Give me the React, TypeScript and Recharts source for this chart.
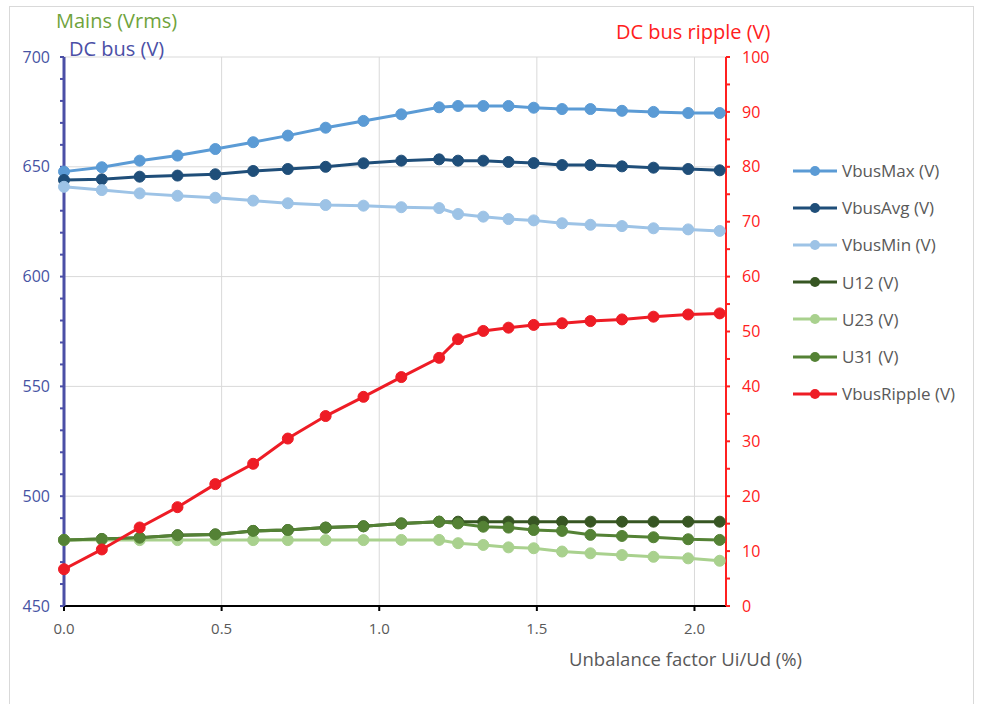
import { LineChart, Line, XAxis, YAxis, CartesianGrid } from "recharts";

// Unbalance factor Ui/Ud (%)
const xFactor = [0, 0.12, 0.24, 0.36, 0.48, 0.6, 0.71, 0.83, 0.95, 1.07, 1.19, 1.25, 1.33, 1.41, 1.49, 1.58, 1.67, 1.77, 1.87, 1.98, 2.08];

const vbusMax = [647.8, 649.8, 652.8, 655.1, 658.1, 661.2, 664.2, 667.8, 670.9, 673.9, 677.1, 677.7, 677.7, 677.7, 676.9, 676.3, 676.3, 675.5, 675.0, 674.5, 674.5];
const vbusAvg = [644.0, 644.3, 645.5, 646.0, 646.6, 648.1, 649.0, 650.0, 651.6, 652.8, 653.4, 652.8, 652.8, 652.2, 651.7, 650.8, 650.8, 650.2, 649.6, 649.0, 648.4];
const vbusMin = [640.9, 639.4, 637.9, 636.8, 635.9, 634.6, 633.4, 632.6, 632.3, 631.6, 631.2, 628.5, 627.3, 626.2, 625.6, 624.3, 623.6, 623.0, 622.0, 621.5, 620.8];
const u12 = [480.1, 480.5, 481.1, 482.2, 482.6, 484.2, 484.6, 485.7, 486.3, 487.6, 488.4, 488.4, 488.4, 488.4, 488.4, 488.4, 488.4, 488.4, 488.4, 488.4, 488.4];
const u23 = [480.1, 480.1, 480.0, 480.0, 480.0, 480.0, 480.0, 480.0, 480.0, 480.1, 480.1, 478.6, 477.8, 476.7, 476.3, 474.8, 474.0, 473.2, 472.4, 471.7, 470.6];
const u31 = [480.1, 480.5, 481.1, 482.2, 482.6, 484.2, 484.6, 485.7, 486.3, 487.6, 488.4, 487.6, 486.1, 485.7, 484.6, 484.2, 482.4, 481.9, 481.3, 480.4, 480.1];
const vbusRipple = [6.7, 10.3, 14.3, 18.0, 22.2, 25.9, 30.5, 34.6, 38.1, 41.7, 45.2, 48.6, 50.1, 50.7, 51.2, 51.5, 51.9, 52.2, 52.7, 53.1, 53.3];

const xTicks = [0, 0.5, 1, 1.5, 2];
const leftTicks = [450, 460, 470, 480, 490, 500, 510, 520, 530, 540, 550, 560, 570, 580, 590, 600, 610, 620, 630, 640, 650, 660, 670, 680, 690, 700];
const rightTicks = [0, 5, 10, 15, 20, 25, 30, 35, 40, 45, 50, 55, 60, 65, 70, 75, 80, 85, 90, 95, 100];

const series = [
  { key: "vbusMax", name: "VbusMax (V)", color: "#5b9bd5", axis: "left" },
  { key: "vbusAvg", name: "VbusAvg (V)", color: "#1f4e79", axis: "left" },
  { key: "vbusMin", name: "VbusMin (V)", color: "#9dc3e6", axis: "left" },
  { key: "u12", name: "U12 (V)", color: "#375623", axis: "left" },
  { key: "u23", name: "U23 (V)", color: "#a9d18e", axis: "left" },
  { key: "u31", name: "U31 (V)", color: "#548235", axis: "left" },
  { key: "vbusRipple", name: "VbusRipple (V)", color: "#ee1c25", axis: "right" },
];

const data = xFactor.map((x, i) => ({
  x,
  vbusMax: vbusMax[i],
  vbusAvg: vbusAvg[i],
  vbusMin: vbusMin[i],
  u12: u12[i],
  u23: u23[i],
  u31: u31[i],
  vbusRipple: vbusRipple[i],
}));

const font = "'Open Sans', 'Noto Sans', sans-serif";

export default function App() {
  return (
    <div style={{ position: "absolute", left: 0, top: 0, width: 981, height: 704, background: "#fff", fontFamily: font, overflow: "hidden" }}>
      <div style={{ position: "absolute", left: 9, top: 6, width: 963, height: 710, border: "1px solid #d9d9d9" }} />
      <LineChart
        width={981}
        height={704}
        data={data}
        margin={{ top: 57, right: 205, bottom: 58, left: 14 }}
        style={{ position: "absolute", left: 0, top: 0 }}
      >
        <CartesianGrid
          yAxisId="left"
          stroke="#d9d9d9"
          horizontalValues={[500, 550, 600, 650, 700]}
          verticalValues={[0.5, 1, 1.5, 2]}
        />
        <XAxis
          dataKey="x"
          type="number"
          domain={[0, 2.1]}
          ticks={xTicks}
          tickFormatter={(v: number) => v.toFixed(1)}
          height={40}
          axisLine={{ stroke: "#000", strokeWidth: 2 }}
          tickLine={{ stroke: "#000", strokeWidth: 2 }}
          tickSize={5}
          tickMargin={12}
          tick={{ fill: "#595959", fontSize: 15, fontFamily: font }}
        />
        <YAxis
          yAxisId="left"
          domain={[450, 700]}
          ticks={leftTicks}
          interval={0}
          tickFormatter={(v: number) => (v % 50 === 0 ? String(v) : "")}
          width={50}
          axisLine={{ stroke: "#4b4fa6", strokeWidth: 3 }}
          tickLine={{ stroke: "#4b4fa6", strokeWidth: 2 }}
          tickSize={4}
          tickMargin={10}
          tick={{ fill: "#4653a3", fontSize: 16, fontFamily: font }}
        />
        <YAxis
          yAxisId="right"
          orientation="right"
          domain={[0, 100]}
          ticks={rightTicks}
          interval={0}
          tickFormatter={(v: number) => (v % 10 === 0 ? String(v) : "")}
          width={50}
          axisLine={{ stroke: "#ff2020", strokeWidth: 2 }}
          tickLine={{ stroke: "#ff2020", strokeWidth: 2 }}
          tickSize={4}
          tickMargin={12}
          tick={{ fill: "#ff2020", fontSize: 16, fontFamily: font }}
        />
        {series.map((s) => (
          <Line
            key={s.key}
            yAxisId={s.axis}
            dataKey={s.key}
            name={s.name}
            stroke={s.color}
            strokeWidth={3}
            dot={{ r: 5.5, fill: s.color, stroke: s.color, strokeWidth: 1 }}
            isAnimationActive={false}
          />
        ))}
      </LineChart>

      <div style={{ position: "absolute", left: 56, top: 7, fontSize: 20, color: "#6fa33c", whiteSpace: "nowrap" }}>Mains (Vrms)</div>
      <div style={{ position: "absolute", left: 69, top: 35, fontSize: 20, color: "#4b4fa6", whiteSpace: "nowrap" }}>DC bus (V)</div>
      <div style={{ position: "absolute", left: 616, top: 18, fontSize: 20, color: "#ff2020", whiteSpace: "nowrap" }}>DC bus ripple (V)</div>
      <div style={{ position: "absolute", left: 569, top: 646, fontSize: 18.5, color: "#595959", whiteSpace: "nowrap" }}>Unbalance factor Ui/Ud (%)</div>

      <div style={{ position: "absolute", left: 793, top: 152 }}>
        {series.map((s) => (
          <div key={s.key} style={{ display: "flex", alignItems: "center", height: 37.2 }}>
            <svg width={44} height={12} style={{ marginRight: 5 }}>
              <line x1={0} y1={6} x2={44} y2={6} stroke={s.color} strokeWidth={3} />
              <circle cx={22} cy={6} r={5} fill={s.color} />
            </svg>
            <span style={{ fontSize: 17, color: "#595959", whiteSpace: "nowrap" }}>{s.name}</span>
          </div>
        ))}
      </div>
    </div>
  );
}
